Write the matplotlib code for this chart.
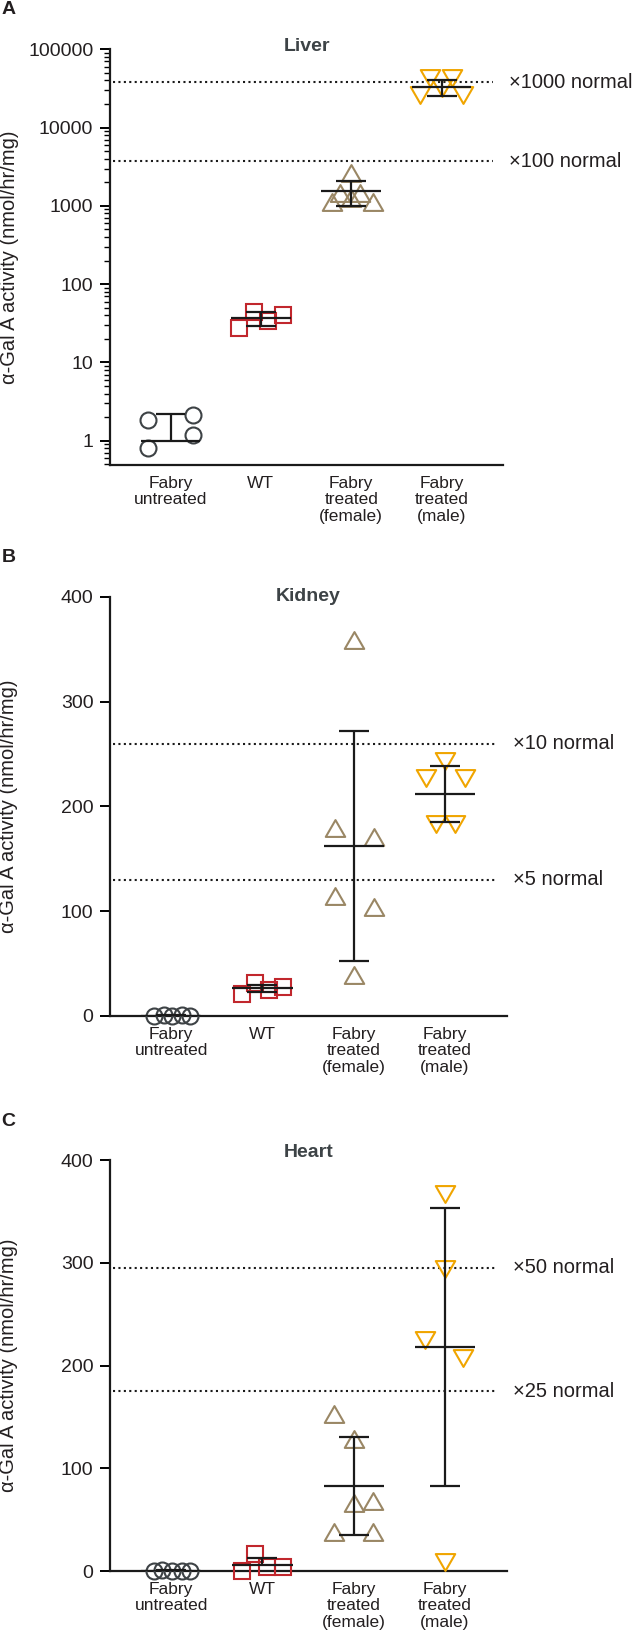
import matplotlib

matplotlib.use("Agg")

import matplotlib.pyplot as plt
from matplotlib.path import Path
from matplotlib.ticker import FixedLocator, LogLocator, NullFormatter

plt.rcParams["font.family"] = ["Liberation Sans", "DejaVu Sans"]

GROUPS = ["Fabry\nuntreated", "WT", "Fabry\ntreated\n(female)", "Fabry\ntreated\n(male)"]
YLABEL = "α-Gal A activity (nmol/hr/mg)"

# --- Liver (log axis) ---
LIVER_VALUES = [
    [1.85, 0.81, 2.15, 1.19],
    [27.7, 44.4, 34.1, 40.6],
    [2650, 1470, 1470, 1128, 1128, 1250],
    [26200, 43300, 32200, 43300, 26200],
]
LIVER_MEAN = [1.0, 37.3, 1550, 33000]
LIVER_UPPER = [2.2, 44.4, 2090, 40700]
LIVER_LOWER = [None, 29.4, 1000, 25700]
LIVER_REF = [37700, 3730]
LIVER_REF_LABELS = ["×1000 normal", "×100 normal"]
LIVER_TICKS = [1, 10, 100, 1000, 10000, 100000]
LIVER_TICK_LABELS = ["1", "10", "100", "1000", "10000", "100000"]

# --- Kidney ---
KIDNEY_VALUES = [
    [0.4, 0.6, 0.3, 0.5, 0.2],
    [21.0, 31.2, 24.8, 27.3],
    [359, 179, 171, 115, 104, 39],
    [243.6, 227, 227, 183.5, 183.5],
]
KIDNEY_MEAN = [0.4, 26.4, 162.5, 212.4]
KIDNEY_UPPER = [0.6, 30.0, 272.5, 238.8]
KIDNEY_LOWER = [0.2, 22.7, 52.8, 185.4]
KIDNEY_REF = [260, 130]
KIDNEY_REF_LABELS = ["×10 normal", "×5 normal"]

# --- Heart ---
HEART_VALUES = [
    [0.3, 0.5, 0.2, 0.4, 0.3],
    [0.0, 17.0, 3.8, 3.8],
    [152.8, 128.3, 66, 68, 37.7, 37.7],
    [367, 294, 224.5, 207.5, 8.3],
]
HEART_MEAN = [0.3, 5.7, 82.3, 218]
HEART_UPPER = [0.5, 12.5, 130.6, 353]
HEART_LOWER = [0.1, None, 34.7, 83]
HEART_REF = [295, 175]
HEART_REF_LABELS = ["×50 normal", "×25 normal"]

LINEAR_TICKS = [0, 100, 200, 300, 400]

# horizontal spread of the points inside each group (category units)
LIVER_OFFSETS = [
    [-0.245, -0.245, 0.245, 0.245],
    [-0.24, -0.08, 0.08, 0.25],
    [0.0, -0.12, 0.1, -0.21, 0.24, 0.0],
    [-0.24, -0.13, 0.0, 0.11, 0.24],
]
KIDNEY_OFFSETS = [
    [-0.19, -0.08, 0.01, 0.12, 0.21],
    [-0.22, -0.08, 0.07, 0.22],
    [0.0, -0.21, 0.22, -0.21, 0.22, 0.0],
    [0.0, -0.21, 0.22, -0.1, 0.11],
]
HEART_OFFSETS = [
    [-0.19, -0.1, 0.01, 0.12, 0.21],
    [-0.22, -0.08, 0.045, 0.22],
    [-0.22, 0.0, 0.0, 0.21, -0.22, 0.21],
    [0.0, 0.0, -0.22, 0.2, 0.0],
]

CLOSED = [Path.MOVETO, Path.LINETO, Path.LINETO, Path.CLOSEPOLY]
UP_TRI = Path([(-1, -0.866), (1, -0.866), (0, 0.866), (-1, -0.866)], CLOSED)
DOWN_TRI = Path([(-1, 0.866), (1, 0.866), (0, -0.866), (-1, 0.866)], CLOSED)
STYLES = [
    dict(marker="o", color="#3d4245", ms=11.5),
    dict(marker="s", color="#c1272d", ms=11.5),
    dict(marker=UP_TRI, color="#9a8765", ms=14),
    dict(marker=DOWN_TRI, color="#f0a500", ms=14),
]
TEXT = "#231f20"


def draw_panel(ax, values, offsets, means, uppers, lowers, refs, ref_labels,
               title, title_dy, letter, letter_y, fig):
    for i, (vals, offs) in enumerate(zip(values, offsets)):
        st = STYLES[i]
        xs = [i + 1 + o for o in offs]
        ax.plot(xs, vals, linestyle="none", marker=st["marker"], ms=st["ms"],
                mfc="none", mec=st["color"], mew=1.5, clip_on=False, zorder=3)

        x = i + 1
        ax.hlines(means[i], x - 0.33, x + 0.33, color="#1a1a1a", lw=1.6, zorder=4)
        lo = lowers[i] if lowers[i] is not None else means[i]
        ax.vlines(x, lo, uppers[i], color="#1a1a1a", lw=1.6, zorder=4)
        ax.hlines(uppers[i], x - 0.165, x + 0.165, color="#1a1a1a", lw=1.6, zorder=4)
        if lowers[i] is not None:
            ax.hlines(lowers[i], x - 0.165, x + 0.165, color="#1a1a1a", lw=1.6,
                      zorder=4)

    trans = ax.get_yaxis_transform()
    for r, lab in zip(refs, ref_labels):
        ax.plot([0.008, 0.975], [r, r], transform=trans, color="#1a1a1a",
                lw=1.5, linestyle=(0, (1, 1.6)), zorder=2)
        ax.text(1.014, r, lab, transform=trans, ha="left", va="center",
                fontsize=14.5, color=TEXT)

    ax.set_xlim(0.33, 4.68)
    ax.set_xticks([1, 2, 3, 4])
    ax.set_xticklabels(GROUPS, fontsize=12.5, color=TEXT, linespacing=1.1)
    ax.tick_params(axis="x", length=0, pad=8)
    ax.tick_params(axis="y", which="major", length=7, width=1.4, labelsize=14,
                   labelcolor=TEXT, pad=5)
    ax.tick_params(axis="y", which="minor", length=4, width=1.0)
    for side in ("top", "right"):
        ax.spines[side].set_visible(False)
    for side in ("left", "bottom"):
        ax.spines[side].set_linewidth(1.6)
        ax.spines[side].set_color("#1a1a1a")

    ax.set_ylabel(YLABEL, fontsize=14.5, color=TEXT)
    ax.yaxis.set_label_coords(-0.232, 0.5)

    ax.annotate(title, xy=(0.5, 1.0), xycoords="axes fraction",
                xytext=(0, title_dy), textcoords="offset pixels",
                ha="center", va="center", fontsize=14, fontweight="bold",
                color="#3d4346")
    fig.text(0.002, letter_y, letter, ha="left", va="center", fontsize=14,
             fontweight="bold", color=TEXT)


fig = plt.figure(figsize=(6.33, 16.48), dpi=100)

ax_a = fig.add_axes([0.1738, 0.71784, 0.6209, 0.25224])
ax_a.set_yscale("log")
ax_a.set_ylim(0.49, 100000)
draw_panel(ax_a, LIVER_VALUES, LIVER_OFFSETS, LIVER_MEAN, LIVER_UPPER,
           LIVER_LOWER, LIVER_REF, LIVER_REF_LABELS, "Liver", 3, "A",
           1 - 9 / 1648, fig)
ax_a.yaxis.set_major_locator(FixedLocator(LIVER_TICKS))
ax_a.set_yticklabels(LIVER_TICK_LABELS)
ax_a.yaxis.set_minor_locator(LogLocator(base=10, subs=range(2, 10), numticks=20))
ax_a.yaxis.set_minor_formatter(NullFormatter())

ax_b = fig.add_axes([0.1738, 0.38350, 0.6272, 0.25425])
ax_b.set_ylim(0, 400)
ax_b.set_yticks(LINEAR_TICKS)
draw_panel(ax_b, KIDNEY_VALUES, KIDNEY_OFFSETS, KIDNEY_MEAN, KIDNEY_UPPER,
           KIDNEY_LOWER, KIDNEY_REF, KIDNEY_REF_LABELS, "Kidney", 0, "B",
           1 - 557 / 1648, fig)

ax_c = fig.add_axes([0.1738, 0.04672, 0.6272, 0.24939])
ax_c.set_ylim(0, 400)
ax_c.set_yticks(LINEAR_TICKS)
draw_panel(ax_c, HEART_VALUES, HEART_OFFSETS, HEART_MEAN, HEART_UPPER,
           HEART_LOWER, HEART_REF, HEART_REF_LABELS, "Heart", 8, "C",
           1 - 1121 / 1648, fig)

fig.savefig("out.png", dpi=100)
